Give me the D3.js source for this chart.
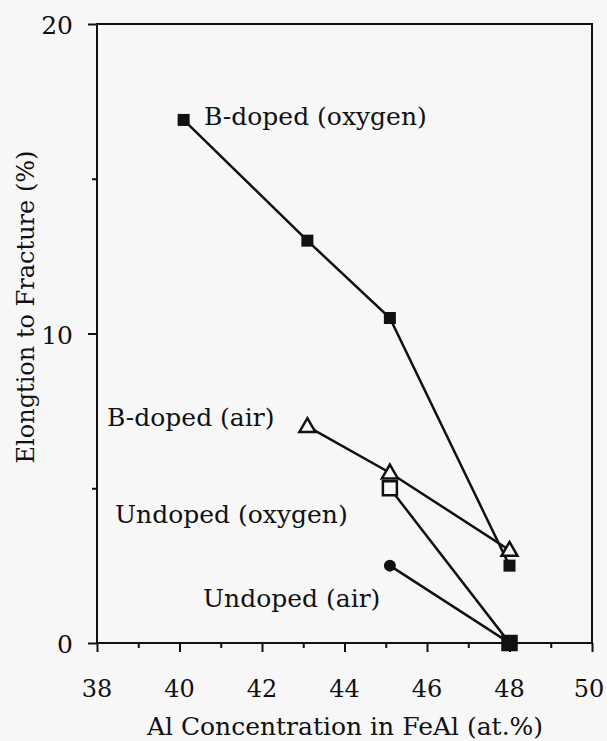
<!DOCTYPE html>
<html>
<head>
<meta charset="utf-8">
<script src="https://cdn.jsdelivr.net/npm/d3@7"></script>
<style>
  body { margin: 0; background: #f7f7f7; }
  svg { display: block; }
</style>
</head>
<body>
<div id="chart"></div>
<script>
// values
var bOxyX = [40.1, 43.1, 45.1, 48];
var bOxyY = [16.9, 13.0, 10.5, 2.5];
var bAirX = [43.1, 45.1, 48];
var bAirY = [7.0, 5.5, 3.0];
var uOxyX = [45.1, 48];
var uOxyY = [5.0, 0];
var uAirX = [45.1, 48];
var uAirY = [2.5, 0];
var xTicks = [38, 40, 42, 44, 46, 48, 50];
var yTicks = [0, 10, 20];
var labels = ["B-doped (oxygen)", "B-doped (air)", "Undoped (oxygen)", "Undoped (air)"];

let width = 607, height = 741;
let plotL = 97, plotR = 592, plotT = 24, plotB = 643;
let serif = "DejaVu Serif";

let svg = d3.select("#chart").append("svg")
    .attr("width", width)
    .attr("height", height)
    .attr("font-family", serif);

let x = d3.scaleLinear().domain([38, 50]).range([plotL, plotR]);
let y = d3.scaleLinear().domain([0, 20]).range([plotB, plotT]);

// frame
svg.append("rect")
    .attr("x", plotL).attr("y", plotT)
    .attr("width", plotR - plotL).attr("height", plotB - plotT)
    .style("fill", "none").style("stroke", "#111").style("stroke-width", 2);

// x ticks (major at even, minor at odd)
let xAxis = svg.append("g").attr("transform", "translate(0," + plotB + ")")
    .call(d3.axisBottom(x).tickValues(d3.range(38, 51, 1)).tickSize(8).tickFormat(""));
xAxis.select(".domain").remove();
xAxis.selectAll(".tick line").style("stroke", "#111").style("stroke-width", 2)
    .attr("y2", function (d) { return d % 2 == 0 ? 9 : 5; });

svg.selectAll(".xlab")
    .data(xTicks).enter()
    .append("text")
    .attr("x", function (d) { return Math.min(x(d), width - 18); })
    .attr("y", 697)
    .attr("text-anchor", "middle")
    .attr("font-family", serif)
    .attr("font-size", 24)
    .attr("fill", "#111")
    .text(function (d) { return d; });

// y ticks
let yAxis = svg.append("g").attr("transform", "translate(" + plotL + ",0)")
    .call(d3.axisLeft(y).tickValues([0, 5, 10, 15, 20]).tickSize(7).tickFormat(""));
yAxis.select(".domain").remove();
yAxis.selectAll(".tick line").style("stroke", "#111").style("stroke-width", 2)
    .attr("x2", function (d) { return d % 10 == 0 ? -9 : -5; });

svg.selectAll(".ylab")
    .data(yTicks).enter()
    .append("text")
    .attr("x", 73)
    .attr("y", function (d) { return y(d) + 10; })
    .attr("text-anchor", "end")
    .attr("font-family", serif)
    .attr("font-size", 25)
    .attr("fill", "#111")
    .text(function (d) { return d; });

// axis titles
svg.append("text")
    .attr("x", 345).attr("y", 735)
    .attr("text-anchor", "middle")
    .attr("font-family", serif)
    .attr("font-size", 25)
    .attr("fill", "#111")
    .text("Al Concentration in FeAl (at.%)");

svg.append("text")
    .attr("transform", "translate(34,307) rotate(-90)")
    .attr("text-anchor", "middle")
    .attr("font-family", serif)
    .attr("font-size", 24)
    .attr("fill", "#111")
    .text("Elongtion to Fracture (%)");

// lines
let line = d3.line().x(function (d) { return x(d[0]); }).y(function (d) { return y(d[1]); });
let series = [
    d3.zip(bOxyX, bOxyY),
    d3.zip(bAirX, bAirY),
    d3.zip(uOxyX, uOxyY),
    d3.zip(uAirX, uAirY)
];
series.forEach(function (s) {
    svg.append("path").datum(s).attr("d", line)
        .style("fill", "none").style("stroke", "#111").style("stroke-width", 2.5);
});

// markers
svg.selectAll(".bOxy").data(series[0]).enter().append("rect")
    .attr("x", function (d) { return x(d[0]) - 6; })
    .attr("y", function (d) { return y(d[1]) - 6; })
    .attr("width", 12).attr("height", 12)
    .style("fill", "#111");

svg.selectAll(".uOxy").data(series[2]).enter().append("rect")
    .attr("x", function (d) { return x(d[0]) - 7; })
    .attr("y", function (d) { return y(d[1]) - 7; })
    .attr("width", 14).attr("height", 14)
    .style("fill", function (d) { return d[1] == 0 ? "#111" : "#f7f7f7"; })
    .style("stroke", "#111").style("stroke-width", 2.5);

svg.selectAll(".uAir").data(series[3]).enter().append("circle")
    .attr("cx", function (d) { return x(d[0]); })
    .attr("cy", function (d) { return y(d[1]); })
    .attr("r", 6)
    .style("fill", "#111");

let tri = d3.symbol().type(d3.symbolTriangle).size(110);
svg.selectAll(".bAir").data(series[1]).enter().append("path")
    .attr("d", tri)
    .attr("transform", function (d) { return "translate(" + x(d[0]) + "," + (y(d[1]) + 1) + ")"; })
    .style("fill", "#f7f7f7")
    .style("stroke", "#111").style("stroke-width", 2.5);

// series labels
let labelPos = [[204, 125], [107, 426], [115, 523], [203, 607]];
svg.selectAll(".slab").data(labels).enter().append("text")
    .attr("x", function (d, i) { return labelPos[i][0]; })
    .attr("y", function (d, i) { return labelPos[i][1]; })
    .attr("font-family", serif)
    .attr("font-size", 25)
    .attr("fill", "#111")
    .text(function (d) { return d; });
</script>
</body>
</html>
